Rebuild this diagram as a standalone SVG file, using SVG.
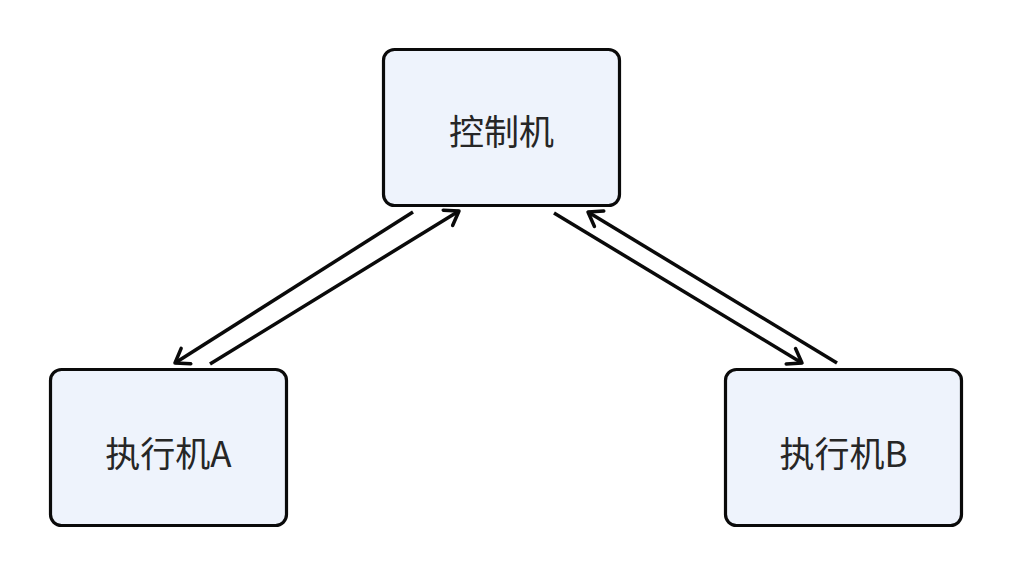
<svg xmlns="http://www.w3.org/2000/svg" width="1012" height="576" viewBox="0 0 1012 576">
<defs>
<style>
.box{fill:#eef3fc;stroke:#0a0a0a;stroke-width:3.2}
.lbl{font-family:"Noto Sans CJK SC","Noto Sans",sans-serif;font-size:35px;fill:#262626;text-anchor:middle;dominant-baseline:central}
.edge{stroke:#0a0a0a;stroke-width:3.5;fill:none;marker-end:url(#arr)}
</style>
<marker id="arr" markerUnits="userSpaceOnUse" markerWidth="30" markerHeight="30" viewBox="-15 -15 30 30" refX="0" refY="0" orient="auto">
<path d="M-13,-9 L0,0 L-13,9" fill="none" stroke="#0a0a0a" stroke-width="3.5" stroke-linecap="round" stroke-linejoin="round"/>
</marker>
</defs>
<rect width="1012" height="576" fill="#ffffff"/>
<g id="connectors">
<line class="edge" x1="413" y1="212" x2="175" y2="363"/>
<line class="edge" x1="210" y1="364" x2="459" y2="211"/>
<line class="edge" x1="837" y1="363" x2="588" y2="212"/>
<line class="edge" x1="554" y1="213" x2="802" y2="363"/>
</g>
<g id="control">
<rect class="box" x="383.5" y="49.5" width="236" height="156" rx="11"/>
<text class="lbl" x="501.5" y="129">控制机</text>
</g>
<g id="execA">
<rect class="box" x="50.5" y="369.5" width="236" height="156" rx="11"/>
<text class="lbl" x="168.5" y="451">执行机A</text>
</g>
<g id="execB">
<rect class="box" x="725.5" y="369.5" width="236" height="156" rx="11"/>
<text class="lbl" x="843.5" y="451">执行机B</text>
</g>
</svg>
